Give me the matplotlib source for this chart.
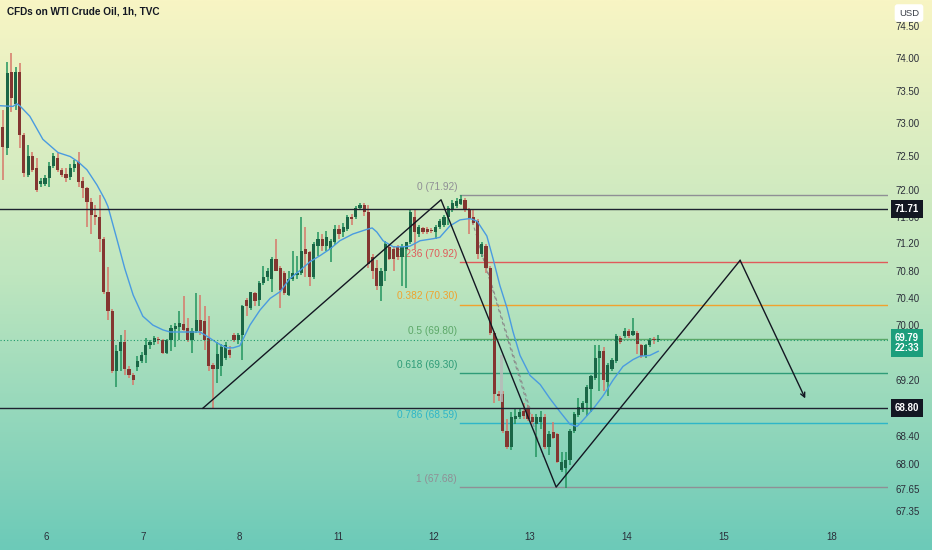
import matplotlib
matplotlib.use("Agg")
import matplotlib.pyplot as plt
import matplotlib.transforms as mtransforms
from matplotlib.colors import LinearSegmentedColormap
from matplotlib.ticker import NullLocator
import numpy as np

plt.rcParams['font.family'] = ['Liberation Sans', 'DejaVu Sans']

# ---- hourly candles ----
opens = [72.95, 72.63, 73.79, 73.29, 73.79, 72.83, 72.22, 72.50, 72.33, 72.09,
         72.09, 72.18, 72.35, 72.48, 72.29, 72.24, 72.19, 72.32, 72.42, 72.13,
         72.03, 71.82, 71.63, 71.60, 71.27, 70.49, 70.20, 69.33, 69.62, 69.75,
         69.37, 69.27, 69.39, 69.48, 69.56, 69.71, 69.75, 69.79, 69.79, 69.59,
         69.78, 69.94, 69.97, 70.01, 69.96, 69.79, 69.91, 70.07, 70.06, 69.81,
         69.42, 69.37, 69.40, 69.52, 69.64, 69.86, 69.79, 69.86, 70.36, 70.25,
         70.47, 70.36, 70.61, 70.71, 70.68, 70.97, 70.83, 70.76, 70.44, 70.67,
         70.73, 70.76, 71.12, 71.08, 70.71, 71.16, 71.27, 71.16, 71.12, 71.22,
         71.41, 71.37, 71.41, 71.60, 71.59, 71.73, 71.77, 71.67, 71.00, 70.83,
         70.57, 70.80, 71.15, 71.12, 71.15, 71.00, 71.12, 71.22, 71.59, 71.34,
         71.43, 71.41, 71.40, 71.37, 71.45, 71.48, 71.59, 71.70, 71.76, 71.79,
         71.85, 71.70, 71.59, 71.53, 71.05, 71.16, 70.83, 69.88, 69.01, 69.01,
         68.47, 68.25, 68.65, 68.68, 68.76, 68.79, 68.68, 68.57, 68.60, 68.68,
         68.25, 68.46, 68.43, 67.92, 67.95, 68.06, 68.47, 68.70, 68.79, 68.87,
         69.08, 69.23, 69.52, 69.62, 69.18, 69.37, 69.48, 69.81, 69.84, 69.91,
         69.86, 69.88, 69.71, 69.55, 69.71, 69.80, 69.78]
highs = [73.21, 73.94, 74.08, 73.87, 73.93, 72.86, 72.68, 72.57, 72.48, 72.18,
         72.22, 72.42, 72.56, 72.56, 72.32, 72.33, 72.38, 72.45, 72.57, 72.19,
         72.04, 71.88, 71.77, 71.92, 71.29, 70.85, 70.23, 69.71, 69.86, 69.93,
         69.40, 69.30, 69.55, 69.61, 69.81, 69.79, 69.84, 69.83, 69.80, 69.80,
         70.00, 70.03, 70.20, 70.42, 70.10, 69.96, 70.47, 70.44, 70.28, 70.14,
         69.45, 69.75, 69.72, 69.75, 69.69, 69.88, 69.88, 70.29, 70.39, 70.49,
         70.49, 70.64, 70.87, 70.83, 71.00, 71.27, 70.86, 70.79, 70.79, 71.09,
         71.02, 71.60, 71.44, 71.09, 71.22, 71.37, 71.34, 71.38, 71.27, 71.48,
         71.47, 71.50, 71.63, 71.64, 71.76, 71.80, 71.80, 71.77, 71.05, 70.95,
         70.83, 71.24, 71.19, 71.16, 71.18, 71.19, 71.22, 71.70, 71.70, 71.47,
         71.45, 71.44, 71.43, 71.47, 71.56, 71.63, 71.76, 71.85, 71.88, 71.92,
         71.88, 71.73, 71.69, 71.56, 71.22, 71.19, 70.86, 69.91, 69.05, 69.04,
         68.65, 68.75, 68.79, 68.79, 68.88, 68.84, 68.72, 68.72, 68.76, 68.72,
         68.47, 68.60, 68.44, 68.18, 68.18, 68.50, 68.75, 68.94, 68.91, 69.13,
         69.27, 69.71, 69.71, 69.68, 69.45, 69.52, 69.87, 69.84, 69.96, 69.94,
         70.10, 69.91, 69.73, 69.73, 69.81, 69.83, 69.86]
lows = [72.15, 72.53, 73.18, 73.21, 72.63, 72.19, 72.19, 72.27, 71.97, 72.04,
        72.06, 72.04, 72.33, 72.27, 72.19, 72.12, 72.15, 72.27, 72.04, 71.88,
        71.44, 71.34, 71.48, 71.08, 70.45, 70.07, 69.30, 69.11, 69.33, 69.27,
        69.24, 69.13, 69.33, 69.45, 69.45, 69.65, 69.71, 69.73, 69.58, 69.58,
        69.62, 69.68, 69.78, 69.91, 69.75, 69.59, 69.88, 69.86, 69.64, 69.33,
        68.79, 69.16, 69.26, 69.49, 69.52, 69.75, 69.72, 69.49, 70.13, 70.22,
        70.28, 70.28, 70.58, 70.64, 70.49, 70.79, 70.25, 70.44, 70.42, 70.65,
        70.68, 70.73, 70.71, 70.57, 70.68, 71.02, 71.09, 71.09, 70.93, 71.18,
        71.27, 71.29, 71.38, 71.47, 71.56, 71.70, 71.61, 70.83, 70.68, 70.51,
        70.35, 70.65, 70.95, 70.79, 70.95, 70.57, 70.54, 71.19, 71.12, 71.29,
        71.34, 71.34, 71.35, 71.27, 71.41, 71.44, 71.48, 71.67, 71.73, 71.77,
        71.67, 71.34, 71.47, 70.97, 71.00, 70.76, 69.86, 68.87, 68.91, 68.44,
        68.22, 68.21, 68.57, 68.65, 68.65, 68.62, 68.57, 68.11, 68.50, 68.22,
        68.14, 68.36, 68.02, 67.89, 67.67, 67.99, 68.44, 68.68, 68.75, 68.69,
        68.75, 69.20, 69.04, 69.04, 68.98, 69.34, 69.45, 69.72, 69.81, 69.81,
        69.84, 69.58, 69.52, 69.52, 69.68, 69.72, 69.75]
closes = [72.65, 73.77, 73.39, 73.79, 72.83, 72.25, 72.50, 72.30, 72.00, 72.13,
          72.18, 72.35, 72.50, 72.29, 72.22, 72.18, 72.33, 72.38, 72.12, 72.03,
          71.82, 71.63, 71.60, 71.27, 70.49, 70.20, 69.33, 69.62, 69.76, 69.37,
          69.27, 69.20, 69.48, 69.56, 69.71, 69.75, 69.81, 69.78, 69.59, 69.79,
          69.96, 69.98, 70.03, 69.93, 69.78, 69.91, 70.07, 69.91, 69.79, 69.40,
          69.36, 69.58, 69.68, 69.71, 69.56, 69.79, 69.86, 70.28, 70.28, 70.48,
          70.35, 70.61, 70.71, 70.80, 70.97, 70.80, 70.51, 70.47, 70.68, 70.76,
          70.76, 71.09, 71.05, 70.71, 71.19, 71.27, 71.16, 71.29, 71.24, 71.41,
          71.34, 71.44, 71.60, 71.56, 71.73, 71.77, 71.67, 70.89, 70.79, 70.57,
          70.80, 71.19, 70.97, 70.97, 71.00, 71.15, 71.22, 71.66, 71.37, 71.44,
          71.37, 71.37, 71.38, 71.44, 71.53, 71.60, 71.73, 71.80, 71.83, 71.86,
          71.70, 71.56, 71.50, 71.05, 71.19, 70.83, 69.88, 69.01, 68.97, 68.47,
          68.25, 68.68, 68.69, 68.75, 68.69, 68.65, 68.60, 68.68, 68.68, 68.25,
          68.43, 68.38, 68.04, 68.04, 68.06, 68.47, 68.72, 68.82, 68.87, 69.11,
          69.26, 69.52, 69.62, 69.20, 69.42, 69.49, 69.84, 69.75, 69.91, 69.84,
          69.91, 69.72, 69.55, 69.71, 69.79, 69.78, 69.79]

# moving average line, sampled off the chart (bar index, price)
ma_x = [-0.7, 2.4, 3.3, 4.0, 6.4, 9.5, 13.1, 16.0, 17.9, 20.0, 22.4, 24.3, 25.0,
        27.1, 29.0, 31.0, 33.3, 35.7, 38.1, 39.8, 43.8, 46.9, 48.8, 51.0, 53.3,
        54.8, 56.4, 58.8, 61.2, 63.6, 66.0, 68.3, 70.7, 73.1, 75.5, 77.9, 80.2,
        83.3, 86.7, 87.9, 89.0, 90.5, 92.9, 95.2, 96.9, 99.3, 102.4, 104.0, 106.4,
        108.8, 111.2, 112.9, 115.2, 116.7, 118.3, 120.0, 121.4, 123.1, 125.5,
        127.9, 130.2, 132.6, 135.0, 136.7, 138.1, 140.5, 142.9, 145.2, 147.6,
        150.0, 151.7, 154.0, 156.0]
ma_y = [73.27, 73.26, 73.30, 73.27, 73.11, 72.76, 72.56, 72.50, 72.42, 72.30,
        72.07, 71.85, 71.75, 71.27, 70.83, 70.44, 70.13, 70.00, 69.93, 69.90,
        69.90, 69.90, 69.83, 69.74, 69.67, 69.67, 69.70, 70.00, 70.22, 70.39,
        70.49, 70.68, 70.80, 70.93, 71.02, 71.12, 71.24, 71.34, 71.41, 71.43,
        71.37, 71.24, 71.15, 71.15, 71.16, 71.24, 71.27, 71.29, 71.46, 71.55,
        71.57, 71.53, 71.31, 70.97, 70.58, 70.25, 69.91, 69.56, 69.27, 69.14,
        68.94, 68.75, 68.57, 68.54, 68.63, 68.79, 68.98, 69.20, 69.40, 69.50,
        69.55, 69.56, 69.62]

# fibonacci retracement
fib_ratios = ["0", "0.236", "0.382", "0.5", "0.618", "0.786", "1"]
fib_prices = [71.92, 70.92, 70.30, 69.80, 69.30, 68.59, 67.68]
fib_colors = ["#8f8f95", "#e05a5a", "#f0a22e", "#5ca868", "#2f9c78", "#2eb6c8", "#8f8f95"]

hlines = [71.71, 68.80]
last_price = 69.79
countdown = "22:33"

# drawn zigzag (bar index, price)
zig_x = [47.6, 104.3, 131.7, 175.5, 191.0]
zig_y = [68.80, 71.85, 67.68, 70.95, 68.94]

day_pos = [10.2, 33.3, 56.2, 79.8, 102.6, 125.5, 148.6, 171.7, 197.4]
day_labels = ["6", "7", "8", "11", "12", "13", "14", "15", "18"]

price_ticks = [74.50, 74.00, 73.50, 73.00, 72.50, 72.00, 71.60, 71.20, 70.80,
               70.40, 70.00, 69.20, 68.40, 68.00, 67.65, 67.35]

# ---- figure ----
W, H = 932, 550
fig = plt.figure(figsize=(W / 100, H / 100), dpi=100)

# gradient background
bg = fig.add_axes([0, 0, 1, 1], zorder=-5)
cmap = LinearSegmentedColormap.from_list("bg", ["#f8f5c4", "#bfe6bf", "#6ccab8"])
grad = np.linspace(0, 1, 256).reshape(-1, 1)
bg.imshow(grad, aspect="auto", cmap=cmap, extent=[0, 1, 0, 1])
bg.axis("off")

ax = fig.add_axes([0, 28 / H, 888 / W, 522 / H])
ax.set_facecolor("none")
ax.set_yscale("log")
ax.set_xlim(-0.7, 210.7)
ax.set_ylim(67.19, 74.90)
for s in ax.spines.values():
    s.set_visible(False)

n = len(opens)
xs = np.arange(n)
o = np.array(opens); c = np.array(closes)
up = c >= o
body_lo = np.minimum(o, c)
body_h = np.maximum(np.abs(c - o), 0.014)

ax.vlines(xs[up], np.array(lows)[up], np.array(highs)[up], color="#23955f", lw=1.1, zorder=3)
ax.vlines(xs[~up], np.array(lows)[~up], np.array(highs)[~up], color="#d7786a", lw=1.1, zorder=3)
ax.bar(xs[up], body_h[up], bottom=body_lo[up], width=0.74, color="#1a6646", zorder=4)
ax.bar(xs[~up], body_h[~up], bottom=body_lo[~up], width=0.74, color="#843631", zorder=4)

# ghost candle of the bars pattern + its dashed guide lines
ax.bar([118.6], [69.56 - 68.89], bottom=[68.89], width=0.74, color="#b9b9b9",
       alpha=0.8, zorder=4)
ax.plot([111.7, 125.5], [71.53, 68.79], color="#8c8c8c", lw=0.8, ls=(0, (3, 3)), zorder=3)
ax.plot([112.9, 128.6], [71.27, 68.11], color="#8c8c8c", lw=0.8, ls=(0, (3, 3)), zorder=3)

# moving average
ax.plot(ma_x, ma_y, color="#4a9be0", lw=1.0, zorder=5)

# fibonacci levels
fib_start = 108.8
for r, p, col in zip(fib_ratios, fib_prices, fib_colors):
    ax.plot([fib_start, 210.7], [p, p], color=col, lw=1.0, zorder=2)
    ax.annotate(f"{r} ({p:.2f})", xy=(108.1, p), xytext=(0, 6),
                textcoords="offset points", ha="right", va="center",
                fontsize=7.3, color=col, zorder=2)

# horizontal support / resistance
for p in hlines:
    ax.axhline(p, color="#1e2230", lw=1.0, zorder=6)

# last price dotted line
ax.axhline(last_price, color="#1f9a6c", lw=0.8, ls=(0, (1, 2)), zorder=6)

# zigzag projection
ax.plot(zig_x[:4], zig_y[:4], color="#131722", lw=1.0, zorder=7)
ax.annotate("", xy=(zig_x[4], zig_y[4]), xytext=(zig_x[3], zig_y[3]),
            arrowprops=dict(arrowstyle="->", color="#131722", lw=1.0,
                            mutation_scale=8, shrinkA=0, shrinkB=0), zorder=7)

# axes ticks
ax.yaxis.tick_right()
ax.yaxis.set_minor_locator(NullLocator())
ax.set_yticks(price_ticks)
ax.set_yticklabels([f"{p:.2f}" for p in price_ticks])
ax.tick_params(axis="y", length=0, pad=5.5, labelsize=7, labelcolor="#2a2e39")
ax.set_xticks(day_pos)
ax.set_xticklabels(day_labels)
ax.xaxis.set_minor_locator(NullLocator())
ax.tick_params(axis="x", length=0, pad=7.5, labelsize=7, labelcolor="#2a2e39")

# price axis labels
trans = mtransforms.blended_transform_factory(fig.transFigure, ax.transData)
for p in hlines:
    ax.text(907 / W, p, f"{p:.2f}", transform=trans, ha="center", va="center",
            fontsize=7, fontweight="bold", color="white", clip_on=False, zorder=20,
            bbox=dict(boxstyle="square,pad=0.4", fc="#131722", ec="none"))
ax.text(907 / W, 69.74, f"{last_price:.2f}\n{countdown}", transform=trans,
        ha="center", va="center", fontsize=6.9, fontweight="bold", color="white",
        linespacing=1.05, clip_on=False, zorder=20,
        bbox=dict(boxstyle="square,pad=0.35", fc="#1c9e7c", ec="none"))

fig.text(909 / W, 1 - 13 / H, "USD", ha="center", va="center", fontsize=6.8,
         color="#3a3e48", zorder=30,
         bbox=dict(boxstyle="round,pad=0.45,rounding_size=0.3", fc="white", ec="none"))

fig.text(7 / W, 1 - 12 / H, "CFDs on WTI Crude Oil, 1h, TVC", ha="left", va="center",
         fontsize=7.2, fontweight="bold", color="#131722")

fig.savefig("out.png", dpi=100)
